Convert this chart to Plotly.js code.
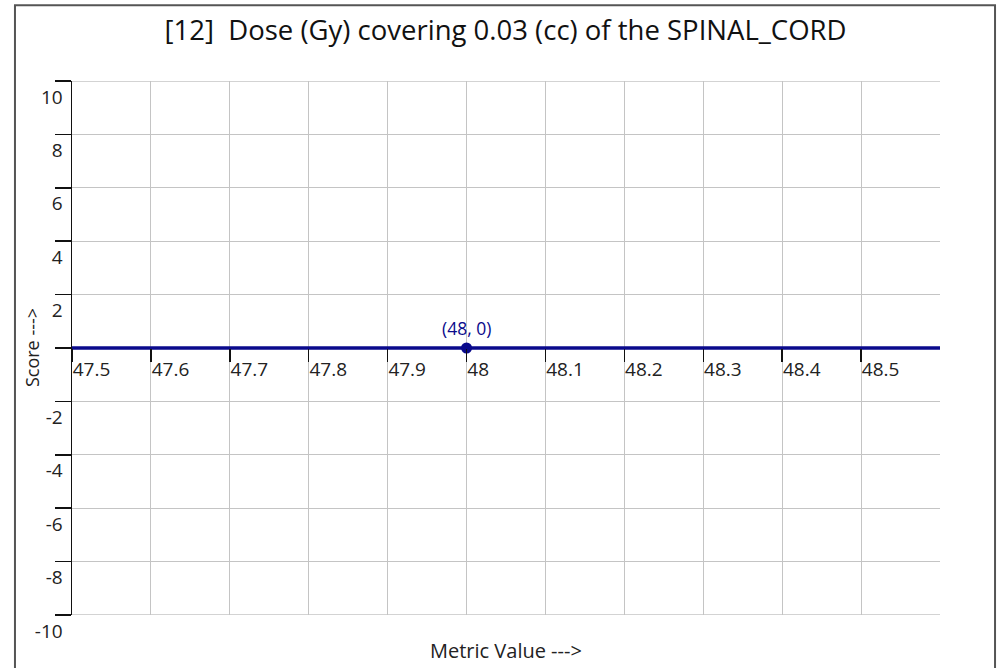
<!DOCTYPE html>
<html>
<head>
<meta charset="utf-8">
<script src="https://cdn.plot.ly/plotly-3.0.1.min.js"></script>
<style>html,body{margin:0;padding:0;background:#fff;}#chart{width:1001px;height:668px;}</style>
</head>
<body>
<div id="chart"></div>
<script>
var chartTitle = "[12]  Dose (Gy) covering 0.03 (cc) of the SPINAL_CORD";
var lineX = [47.5, 48, 48.6];
var lineY = [0, 0, 0];
var pointX = [48];
var pointY = [0];
var pointLabel = "(48, 0)";
var xTickVals = [47.5, 47.6, 47.7, 47.8, 47.9, 48, 48.1, 48.2, 48.3, 48.4, 48.5];
var xTickText = ["47.5", "47.6", "47.7", "47.8", "47.9", "48", "48.1", "48.2", "48.3", "48.4", "48.5"];
var yTickVals = [-10, -8, -6, -4, -2, 0, 2, 4, 6, 8, 10];
var yTickText = ["-10", "-8", "-6", "-4", "-2", "", "2", "4", "6", "8", "10"];
var yMin = -10, yMax = 10;

var fontFam = "'Open Sans', 'Noto Sans', sans-serif";
var navy = "#0a0a8c";
var gridCol = "#c4c4c4";

var traces = [
  {x: lineX, y: lineY, type: "scatter", mode: "lines",
   line: {color: navy, width: 3.5}, hoverinfo: "skip", showlegend: false},
  {x: pointX, y: pointY, type: "scatter", mode: "markers",
   marker: {color: navy, size: 11}, showlegend: false}
];

var layout = {
  width: 1001, height: 668,
  margin: {l: 72, r: 61, t: 81, b: 53},
  paper_bgcolor: "#ffffff", plot_bgcolor: "#ffffff",
  font: {family: fontFam, color: "#222", size: 18},
  title: {text: chartTitle, x: 0.505, xanchor: "center", y: 0.955, yanchor: "middle",
          font: {family: fontFam, size: 27.5, color: "#111"}},
  xaxis: {
    range: [47.5, 48.6], anchor: "free", position: 0.5,
    tickvals: xTickVals, ticktext: xTickText,
    ticks: "outside", ticklen: 13, tickcolor: "#111", tickwidth: 1.5,
    ticklabelposition: "outside right", ticklabelstandoff: 4,
    showgrid: true, gridcolor: gridCol, gridwidth: 1,
    zeroline: false, showline: false,
    tickfont: {size: 19, color: "#222"},
    fixedrange: true
  },
  yaxis: {
    range: [yMin, yMax],
    tickvals: yTickVals, ticktext: yTickText,
    ticks: "outside", ticklen: 16, tickcolor: "#111", tickwidth: 1.5,
    ticklabelshift: 16, ticklabelstandoff: -12,
    showgrid: true, gridcolor: gridCol, gridwidth: 1,
    zeroline: false, showline: true, linecolor: "#111", linewidth: 1.5,
    tickfont: {size: 19, color: "#222"},
    fixedrange: true
  },
  annotations: [
    {x: pointX[0], y: pointY[0], xref: "x", yref: "y", text: pointLabel,
     showarrow: false, yshift: 20, font: {family: fontFam, size: 17.5, color: navy}},
    {x: 0.5, y: -0.037, xref: "paper", yref: "paper", yanchor: "top", xanchor: "center",
     text: "Metric Value --->", showarrow: false,
     font: {family: fontFam, size: 20, color: "#222"}},
    {x: -0.046, y: 0.5, xref: "paper", yref: "paper", xanchor: "center", yanchor: "middle",
     text: "Score --->", textangle: -90, showarrow: false,
     font: {family: fontFam, size: 18, color: "#222"}}
  ],
  shapes: [
    {type: "rect", xref: "paper", yref: "paper", x0: -0.0657, x1: 1.0634, y0: -0.2, y1: 1.1417,
     line: {color: "#555", width: 2}, fillcolor: "rgba(0,0,0,0)", layer: "below"},
    {type: "line", xref: "paper", yref: "y", x0: 0, x1: 1, y0: yMax, y1: yMax,
     line: {color: gridCol, width: 1.5}, layer: "below"},
    {type: "line", xref: "paper", yref: "y", x0: 0, x1: 1, y0: yMin, y1: yMin,
     line: {color: gridCol, width: 1.5}, layer: "below"}
  ]
};

Plotly.newPlot("chart", traces, layout, {displayModeBar: false, staticPlot: true});
</script>
</body>
</html>
